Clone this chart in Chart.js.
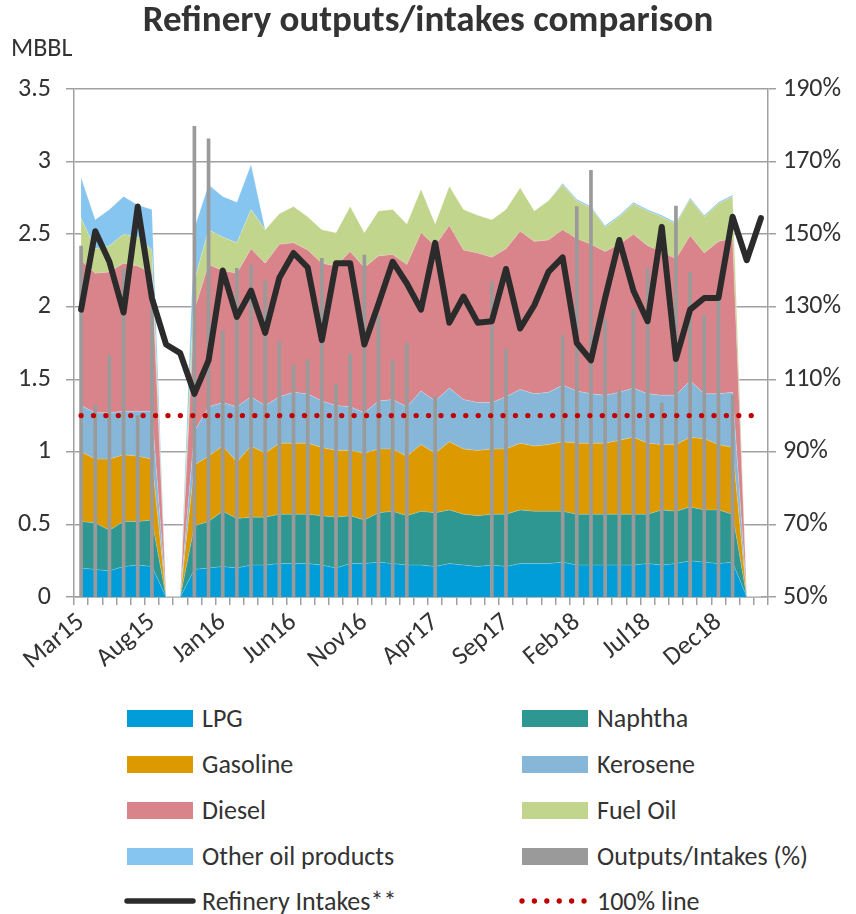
<!DOCTYPE html>
<html>
<head>
<meta charset="utf-8">
<script src="https://cdn.jsdelivr.net/npm/chart.js@4/dist/chart.umd.min.js"></script>
<style>
  html, body { margin: 0; padding: 0; background: #fff; }
  body { width: 856px; height: 914px; position: relative; overflow: hidden;
         font-family: Carlito, Lato, "Liberation Sans", sans-serif; color: #333; }
  #wrap { position: absolute; left: 0; top: 0; width: 856px; height: 690px; }
  .unit { position: absolute; left: 11px; top: 32px; font-size: 26px; line-height: 30px; }
  .lg { position: absolute; font-size: 26px; line-height: 30px; white-space: nowrap; }
  .sw { position: absolute; width: 66px; height: 17px; }
</style>
</head>
<body>
<div id="wrap"><canvas id="c"></canvas></div>
<div class="unit">MBBL</div>
<div id="legend"></div>
<script>
// ---- categories (months) ----
const months = ['Mar15','Apr15','May15','Jun15','Jul15','Aug15','Sep15','Oct15','Nov15','Dec15',
  'Jan16','Feb16','Mar16','Apr16','May16','Jun16','Jul16','Aug16','Sep16','Oct16','Nov16','Dec16',
  'Jan17','Feb17','Mar17','Apr17','May17','Jun17','Jul17','Aug17','Sep17','Oct17','Nov17','Dec17',
  'Jan18','Feb18','Mar18','Apr18','May18','Jun18','Jul18','Aug18','Sep18','Oct18','Nov18','Dec18',
  'Jan19','Feb19','Mar19'];
const xTickLabels = ['Mar15','Aug15','Jan16','Jun16','Nov16','Apr17','Sep17','Feb18','Jul18','Dec18'];
const leftTicks = [0, 0.5, 1, 1.5, 2, 2.5, 3, 3.5];
const rightTicks = [50, 70, 90, 110, 130, 150, 170, 190];

// ---- series (MBBL) ----
const lpg = [0.20,0.19,0.18,0.21,0.22,0.21,0,0,0.19,0.20,0.21,0.20,0.22,0.22,
  0.23,0.23,0.23,0.22,0.20,0.23,0.23,0.24,0.23,0.22,
  0.22,0.21,0.23,0.22,0.21,0.22,0.21,0.23,0.23,0.23,
  0.24,0.22,0.22,0.22,0.22,0.22,0.23,0.22,0.23,0.25,0.24,0.23,0.24,0,0];
const naphtha = [0.32,0.32,0.28,0.31,0.30,0.32,0,0,0.30,0.32,0.38,0.34,0.33,0.33,
  0.34,0.34,0.34,0.34,0.35,0.33,0.30,0.34,0.36,0.34,
  0.37,0.37,0.37,0.35,0.35,0.35,0.36,0.37,0.36,0.36,
  0.35,0.35,0.35,0.35,0.35,0.35,0.34,0.38,0.36,0.37,0.36,0.37,0.33,0,0];
const gasoline = [0.48,0.44,0.49,0.46,0.45,0.42,0,0,0.42,0.45,0.45,0.39,0.49,0.44,
  0.49,0.49,0.49,0.47,0.46,0.45,0.46,0.44,0.43,0.41,
  0.46,0.41,0.47,0.45,0.45,0.45,0.45,0.46,0.45,0.46,
  0.48,0.49,0.49,0.49,0.51,0.53,0.49,0.45,0.46,0.48,0.49,0.45,0.46,0,0];
const kerosene = [0.32,0.32,0.32,0.30,0.31,0.33,0,0,0.23,0.34,0.30,0.38,0.34,0.33,
  0.32,0.35,0.34,0.32,0.31,0.30,0.28,0.33,0.34,0.34,
  0.37,0.36,0.37,0.34,0.33,0.32,0.36,0.37,0.36,0.36,
  0.39,0.36,0.34,0.33,0.33,0.34,0.34,0.34,0.34,0.39,0.31,0.35,0.38,0,0];
const diesel = [1.00,0.96,0.97,1.02,1.00,0.95,0,0,0.84,0.98,0.91,0.92,1.02,0.98,
  1.05,1.03,0.99,0.95,0.96,1.07,1.00,1.00,1.00,0.98,
  1.09,1.07,1.12,1.03,1.03,1.00,1.02,1.09,1.05,1.05,
  1.07,1.05,1.03,0.99,1.02,1.06,1.02,0.99,0.94,1.00,0.97,1.05,1.06,0,0];
const fuelOil = [0.29,0.17,0.18,0.20,0.20,0.16,0,0,0.20,0.24,0.23,0.21,0.27,0.23,
  0.21,0.25,0.23,0.23,0.23,0.31,0.24,0.31,0.31,0.28,
  0.30,0.15,0.27,0.28,0.26,0.26,0.27,0.30,0.21,0.27,
  0.31,0.26,0.25,0.17,0.19,0.21,0.24,0.24,0.24,0.25,0.25,0.26,0.29,0,0];
const otherProducts = [0.28,0.20,0.25,0.26,0.22,0.28,0,0,0.36,0.31,0.28,0.28,0.31,0,
  0,0,0,0,0,0,0,0,0,0,
  0,0,0,0,0,0,0,0,0,0,
  0.01,0.01,0.01,0.01,0.01,0.01,0.01,0.01,0.01,0.01,0.01,0.01,0.01,0,0];
// Outputs/Intakes (%), right axis
const outputsIntakesPct = [146.7,102.9,116.7,140.5,99.9,130,null,null,179.7,176.3,123.4,140.6,141.5,137.1,
  120.5,113.9,115.5,143.3,108.7,117,144.2,127.5,115.3,120,
  null,105.2,null,null,null,137,118.3,null,null,null,
  122.1,157.6,167.6,126.5,107,129.2,140.6,103.5,157.7,139.5,127.7,132.8,105.7,null,null];
// Refinery intakes (MBBL), left axis
const refineryIntakes = [1.98,2.52,2.31,1.96,2.69,2.06,1.74,1.68,1.40,1.63,2.25,1.93,2.11,1.82,
  2.20,2.37,2.27,1.77,2.30,2.30,1.74,2.02,2.31,2.16,
  1.98,2.44,1.89,2.07,1.89,1.90,2.26,1.85,2.01,2.24,
  2.34,1.75,1.63,2.06,2.46,2.11,1.90,2.55,1.64,1.98,2.06,2.06,2.62,2.32,2.61];
// 100% reference line, right axis
const line100 = [100,100,100,100,100,100,100,100,100,100,100,100,100,100,100,100,100,100,100,100,
  100,100,100,100,100,100,100,100,100,100,100,100,100,100,100,100,100,100,100,100,
  100,100,100,100,100,100,100,100,100];

const FONT = 'Carlito, Lato, "Liberation Sans", sans-serif';
const TXT = '#333333';
const GRID = '#A0A0A0';

const colors = {
  lpg: '#009DD8', naphtha: '#2E9791', gasoline: '#DC9A00', kerosene: '#86B7D9',
  diesel: '#D9848A', fuelOil: '#C2D58C', other: '#86C5EF', bars: '#9A9A9A',
  intake: '#2B2B2B', ref: '#C00000'
};

function area(label, data, color, fill, ord) {
  return { type: 'line', label, data, yAxisID: 'y', stack: 'prod',
    backgroundColor: color, borderColor: 'rgba(255,255,255,0.35)', borderWidth: 0.6,
    pointRadius: 0, tension: 0, fill, order: ord };
}

const datasets = [
  area('LPG', lpg, colors.lpg, 'origin', 10),
  area('Naphtha', naphtha, colors.naphtha, '-1', 11),
  area('Gasoline', gasoline, colors.gasoline, '-1', 12),
  area('Kerosene', kerosene, colors.kerosene, '-1', 13),
  area('Diesel', diesel, colors.diesel, '-1', 14),
  area('Fuel Oil', fuelOil, colors.fuelOil, '-1', 15),
  area('Other oil products', otherProducts, colors.other, '-1', 16),
  { type: 'bar', label: 'Outputs/Intakes (%)', data: outputsIntakesPct, yAxisID: 'y1',
    backgroundColor: colors.bars, barThickness: 3, order: 2 },
  { type: 'line', label: '100% line', data: line100, yAxisID: 'y1', stack: 'ref',
    borderColor: colors.ref, borderWidth: 5.3, borderDash: [0.01, 12.4], borderCapStyle: 'round',
    pointRadius: 0, tension: 0, fill: false, order: 1 },
  { type: 'line', label: 'Refinery Intakes**', data: refineryIntakes, yAxisID: 'y', stack: 'intake',
    borderColor: colors.intake, borderWidth: 6, borderJoinStyle: 'round', borderCapStyle: 'round',
    pointRadius: 0, tension: 0, fill: false, order: 0 }
];

new Chart(document.getElementById('c'), {
  data: { labels: months, datasets },
  options: {
    responsive: true, maintainAspectRatio: false, animation: false,
    layout: { padding: 0 },
    plugins: {
      legend: { display: false },
      tooltip: { enabled: false },
      title: { display: true, text: 'Refinery outputs/intakes comparison', color: TXT,
        font: { family: FONT, size: 37, weight: 'bold', lineHeight: 1.2 },
        padding: { top: 0, bottom: 44.6 } }
    },
    scales: {
      x: {
        offset: true,
        grid: { display: true, offset: true, drawOnChartArea: false, drawTicks: true,
          tickLength: 8, color: GRID, lineWidth: 1.5 },
        border: { display: true, color: GRID, width: 1.5 },
        ticks: { autoSkip: false, minRotation: 40, maxRotation: 40, color: TXT, padding: 2,
          font: { family: FONT, size: 26 },
          callback: function(v, i) { const l = months[i]; return xTickLabels.includes(l) ? l : ''; } },
        afterFit(s) { s.height = 93; }
      },
      y: {
        position: 'left', stacked: true, min: 0, max: 3.5,
        afterBuildTicks(s) { s.ticks = leftTicks.map(v => ({ value: v })); },
        grid: { color: GRID, lineWidth: 1.5, tickLength: 8 },
        border: { display: true, color: GRID, width: 1.5 },
        ticks: { color: TXT, padding: 15, font: { family: FONT, size: 26 },
          callback: v => String(v) },
        afterFit(s) { s.width = 74; }
      },
      y1: {
        position: 'right', min: 50, max: 190,
        afterBuildTicks(s) { s.ticks = rightTicks.map(v => ({ value: v })); },
        grid: { drawOnChartArea: false, color: GRID, lineWidth: 1.5, tickLength: 8 },
        border: { display: true, color: GRID, width: 1.5 },
        ticks: { color: TXT, padding: 7, font: { family: FONT, size: 26 },
          callback: v => v + '%' },
        afterFit(s) { s.width = 88; }
      }
    }
  }
});

// ---- HTML legend (two columns) ----
const legendItems = [
  { label: 'LPG', kind: 'box', color: colors.lpg },
  { label: 'Naphtha', kind: 'box', color: colors.naphtha },
  { label: 'Gasoline', kind: 'box', color: colors.gasoline },
  { label: 'Kerosene', kind: 'box', color: colors.kerosene },
  { label: 'Diesel', kind: 'box', color: colors.diesel },
  { label: 'Fuel Oil', kind: 'box', color: colors.fuelOil },
  { label: 'Other oil products', kind: 'box', color: colors.other },
  { label: 'Outputs/Intakes (%)', kind: 'box', color: colors.bars },
  { label: 'Refinery Intakes**', kind: 'line', color: colors.intake },
  { label: '100% line', kind: 'dots', color: colors.ref }
];
const rowY = [718, 764, 810, 856, 901];
const colX = [127, 522];
const lg = document.getElementById('legend');
legendItems.forEach((it, k) => {
  const r = Math.floor(k / 2), c = k % 2;
  const x = colX[c], y = rowY[r];
  let sw;
  if (it.kind === 'box') {
    sw = document.createElement('div');
    sw.className = 'sw';
    sw.style.left = x + 'px'; sw.style.top = (y - 8.5) + 'px'; sw.style.background = it.color;
  } else {
    sw = document.createElementNS('http://www.w3.org/2000/svg', 'svg');
    sw.setAttribute('width', '72'); sw.setAttribute('height', '12');
    sw.style.position = 'absolute';
    sw.style.left = (x - 3) + 'px'; sw.style.top = (y - 6) + 'px';
    const ln = document.createElementNS('http://www.w3.org/2000/svg', 'line');
    ln.setAttribute('x1', '3'); ln.setAttribute('x2', '69');
    ln.setAttribute('y1', '6'); ln.setAttribute('y2', '6');
    ln.setAttribute('stroke', it.color);
    ln.setAttribute('stroke-linecap', 'round');
    if (it.kind === 'line') { ln.setAttribute('stroke-width', '5.5'); }
    else { ln.setAttribute('stroke-width', '5.3'); ln.setAttribute('stroke-dasharray', '0.01 12.4'); }
    sw.appendChild(ln);
  }
  lg.appendChild(sw);
  const t = document.createElement('div');
  t.className = 'lg';
  t.textContent = it.label;
  t.style.left = (x + 75) + 'px'; t.style.top = (y - 15) + 'px';
  lg.appendChild(t);
});
</script>
</body>
</html>
